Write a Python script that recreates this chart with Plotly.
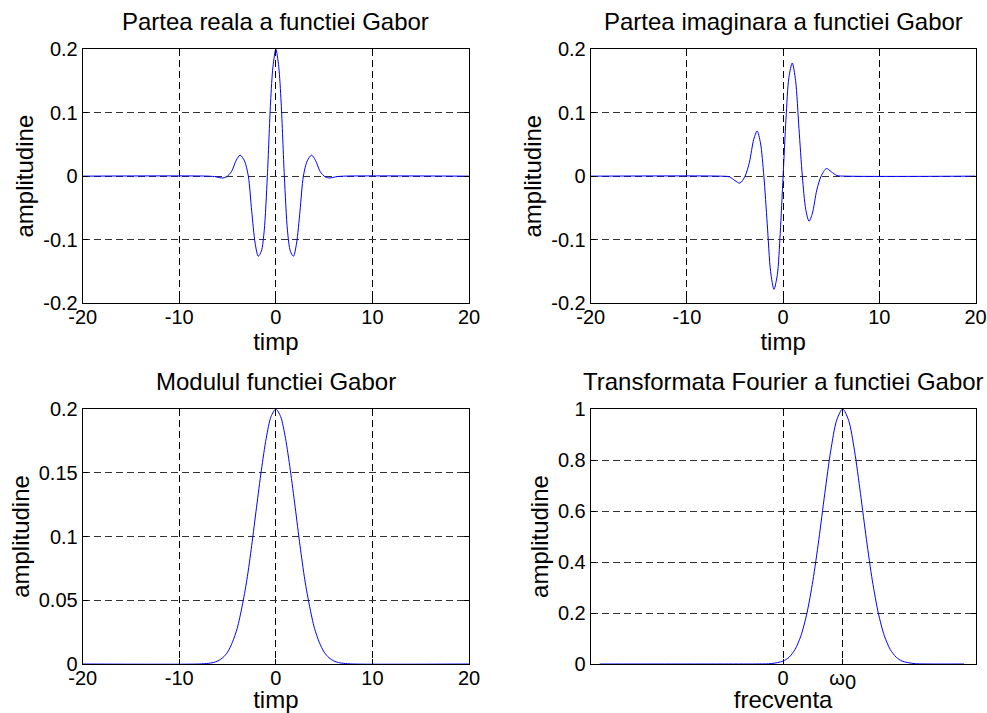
import plotly.graph_objects as go

# ---------------- data ----------------
# time axis samples (timp) for the real part
t_real = [-20, -7.0, -6.2, -5.6, -5.1, -4.6, -4.1, -3.7, -3.25, -2.85, -2.5, -2.15, -1.82, -1.5, -1.2,
          -0.88, -0.55, -0.3, 0, 0.3, 0.55, 0.88, 1.2, 1.5, 1.82, 2.15, 2.5, 2.85, 3.25, 3.7, 4.1,
          4.6, 5.1, 5.6, 6.2, 7.0, 20]
y_real = [0, 0, -0.001, -0.003, -0.001, 0.007, 0.025, 0.033, 0.024, 0.0, -0.055, -0.105, -0.126, -0.118,
          -0.085, 0.0, 0.115, 0.172, 0.200, 0.172, 0.115, 0.0, -0.085, -0.118, -0.126, -0.105, -0.055,
          0.0, 0.024, 0.033, 0.025, 0.007, -0.001, -0.003, -0.001, 0, 0]

# imaginary part
t_imag = [-20, -6.5, -5.6, -5.0, -4.5, -3.95, -3.5, -3.05, -2.7, -2.35, -2.0, -1.65, -1.3, -0.95, -0.6,
          -0.3, 0, 0.3, 0.6, 0.95, 1.3, 1.65, 2.0, 2.35, 2.7, 3.05, 3.5, 3.95, 4.5, 5.0, 5.6, 6.5, 20]
y_imag = [0, 0, -0.001, -0.007, -0.011, 0.0, 0.022, 0.058, 0.071, 0.052, 0.0, -0.075, -0.150, -0.178,
          -0.155, -0.090, 0.0, 0.090, 0.155, 0.178, 0.150, 0.075, 0.0, -0.052, -0.071, -0.058, -0.022,
          0.0, 0.012, 0.007, 0.001, 0, 0]

# modulus
t_mod = [-20, -8, -7, -6.5, -6, -5.5, -5, -4.5, -4, -3.5, -3, -2.5, -2, -1.5, -1, -0.5, 0,
         0.5, 1, 1.5, 2, 2.5, 3, 3.5, 4, 4.5, 5, 5.5, 6, 6.5, 7, 8, 20]
y_mod = [0, 0, 0.0005, 0.0011, 0.0024, 0.0049, 0.0093, 0.017, 0.028, 0.045, 0.066, 0.093, 0.123, 0.152,
         0.177, 0.194, 0.200, 0.194, 0.177, 0.152, 0.123, 0.093, 0.066, 0.045, 0.028, 0.017, 0.0093,
         0.0049, 0.0024, 0.0011, 0.0005, 0, 0]

# Fourier transform (frecventa, omega0 = 1)
w_freq = [-3.08, -1.0, -0.4, -0.2, 0.0, 0.1, 0.2, 0.3, 0.4, 0.5, 0.6, 0.7, 0.8, 0.9, 1.0,
          1.1, 1.2, 1.3, 1.4, 1.5, 1.6, 1.7, 1.8, 1.9, 2.0, 2.2, 2.4, 3.04]
y_freq = [0, 0, 0.0002, 0.0016, 0.0113, 0.0265, 0.0568, 0.111, 0.199, 0.326, 0.488, 0.668, 0.836, 0.956, 1.0,
          0.956, 0.836, 0.668, 0.488, 0.326, 0.199, 0.111, 0.0568, 0.0265, 0.0113, 0.0016, 0.0002, 0]

# tick labels
time_ticks = [-20, -10, 0, 10, 20]
time_ticktext = ["-20", "-10", "0", "10", "20"]
amp_ticks_top = [-0.2, -0.1, 0, 0.1, 0.2]
amp_ticktext_top = ["-0.2", "-0.1", "0", "0.1", "0.2"]
mod_ticks = [0, 0.05, 0.1, 0.15, 0.2]
mod_ticktext = ["0", "0.05", "0.1", "0.15", "0.2"]
freq_xticks = [0, 1]
freq_xticktext = ["0", "ω<sub><span style='font-size:20px'>0</span></sub>"]
freq_yticks = [0, 0.2, 0.4, 0.6, 0.8, 1]
freq_yticktext = ["0", "0.2", "0.4", "0.6", "0.8", "1"]

titles = ["Partea reala a functiei Gabor", "Partea imaginara a functiei Gabor",
          "Modulul functiei Gabor", "Transformata Fourier a functiei Gabor"]

# ---------------- figure ----------------
FONT = "Liberation Sans, Arial, sans-serif"
W, H = 987, 713
left_dom = [82.7 / W, 469.0 / W]
right_dom = [590.7 / W, 975.5 / W]
top_dom = [1 - 303.3 / H, 1 - 49.0 / H]
bot_dom = [1 - 664.0 / H, 1 - 409.0 / H]

fig = go.Figure()
line = dict(color="#0000ff", width=1, shape="spline", smoothing=0.8)
fig.add_trace(go.Scatter(x=t_real, y=y_real, mode="lines", line=line, xaxis="x", yaxis="y", showlegend=False))
fig.add_trace(go.Scatter(x=t_imag, y=y_imag, mode="lines", line=line, xaxis="x2", yaxis="y2", showlegend=False))
fig.add_trace(go.Scatter(x=t_mod, y=y_mod, mode="lines", line=line, xaxis="x3", yaxis="y3", showlegend=False))
fig.add_trace(go.Scatter(x=w_freq, y=y_freq, mode="lines", line=line, xaxis="x4", yaxis="y4", showlegend=False))

TICKFONT = dict(family=FONT, size=20, color="black")
LABFONT = dict(family=FONT, size=24, color="black")

def xax(dom, anchor, rng, tv, tt, title):
    return dict(domain=dom, anchor=anchor, range=rng, tickvals=tv, ticktext=tt, automargin=False,
                showline=True, linecolor="black", linewidth=1, mirror="ticks",
                ticks="inside", ticklen=5, tickcolor="black", ticklabelstandoff=-4,
                showgrid=True, gridcolor="black", gridwidth=1, griddash="7px,4px",
                zeroline=False, tickfont=TICKFONT,
                title=dict(text=title, font=LABFONT, standoff=0))

def yax(dom, anchor, rng, tv, tt, title):
    return dict(domain=dom, anchor=anchor, range=rng, tickvals=tv, ticktext=tt, automargin=False,
                showline=True, linecolor="black", linewidth=1, mirror="ticks",
                ticks="inside", ticklen=5, tickcolor="black",
                showgrid=True, gridcolor="#333333", gridwidth=1, griddash="7px,4px",
                zeroline=False, tickfont=TICKFONT,
                title=dict(text=title, font=LABFONT, standoff=2))

fig.update_layout(
    width=W, height=H,
    margin=dict(l=0, r=0, t=0, b=0),
    paper_bgcolor="white", plot_bgcolor="white",
    font=dict(family=FONT, color="black"),
    xaxis=xax(left_dom, "y", [-20, 20], time_ticks, time_ticktext, "timp"),
    yaxis=yax(top_dom, "x", [-0.2, 0.2], amp_ticks_top, amp_ticktext_top, "amplitudine"),
    xaxis2=xax(right_dom, "y2", [-20, 20], time_ticks, time_ticktext, "timp"),
    yaxis2=yax(top_dom, "x2", [-0.2, 0.2], amp_ticks_top, amp_ticktext_top, "amplitudine"),
    xaxis3=xax(left_dom, "y3", [-20, 20], time_ticks, time_ticktext, "timp"),
    yaxis3=yax(bot_dom, "x3", [0, 0.2], mod_ticks, mod_ticktext, "amplitudine"),
    xaxis4=xax(right_dom, "y4", [-3.232, 3.232], freq_xticks, freq_xticktext, "frecventa"),
    yaxis4=yax(bot_dom, "x4", [0, 1], freq_yticks, freq_yticktext, "amplitudine"),
)

for title, xd, yd in [(titles[0], left_dom, top_dom), (titles[1], right_dom, top_dom),
                      (titles[2], left_dom, bot_dom), (titles[3], right_dom, bot_dom)]:
    fig.add_annotation(text=title, x=(xd[0] + xd[1]) / 2, y=yd[1], xref="paper", yref="paper",
                       xanchor="center", yanchor="bottom", yshift=12, showarrow=False,
                       font=dict(family=FONT, size=24, color="black"))

fig.write_html("out.html")
